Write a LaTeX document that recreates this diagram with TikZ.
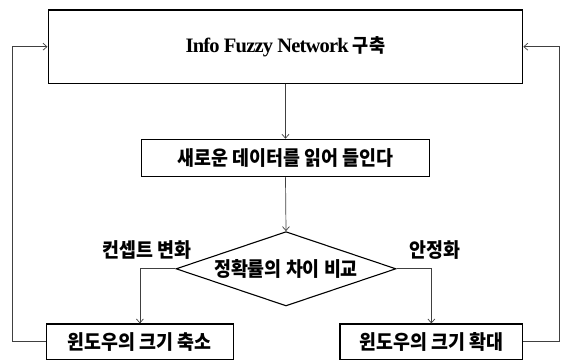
\documentclass[tikz,border=0pt]{standalone}
\usepackage{fontspec}
\setmainfont{Liberation Serif}
\newfontfamily\kr[FakeStretch=0.92]{Noto Sans CJK KR}
\newfontfamily\tightserif[LetterSpace=-4]{Liberation Serif}
\usetikzlibrary{shapes.geometric,arrows.meta}
\begin{document}
\begin{tikzpicture}[x=1pt,y=-1pt,
  kfont/.style={font=\kr\bfseries\fontsize{20}{24}\selectfont},
  box/.style={draw=black,line width=1.1pt,rectangle,inner sep=0pt,kfont},
  conn/.style={draw=black!75,line width=0.7pt},
  arr/.style={conn,-{Straight Barb[length=4pt,width=7pt]}},
  lbl/.style={kfont,inner sep=0pt}]
\useasboundingbox (0,0) rectangle (565,361);
\node[box,minimum width=474.7pt,minimum height=73.3pt] (top) at (285.4,46.7)
  {{\tightserif\bfseries\fontsize{20.5}{24}\selectfont Info Fuzzy Network} {\kr\bfseries\fontsize{19}{24}\selectfont 구축}};
\node[box,minimum width=287.6pt,minimum height=37.4pt] (read) at (285.5,158) {새로운 데이터를 읽어 들인다};
\node[draw=black,line width=1.1pt,diamond,shape aspect=2.96,inner sep=0pt,minimum width=220pt,minimum height=74.3pt,kfont] (dia) at (286,268.8) {정확률의 차이 비교};
\node[box,minimum width=186.3pt,minimum height=35.5pt] (lbox) at (139.9,341.75) {윈도우의 크기 축소};
\node[box,minimum width=182.7pt,minimum height=35.5pt] (rbox) at (431.35,341.75) {윈도우의 크기 확대};
\node[lbl] (lc) at (146.7,250) {컨셉트 변화};
\node[lbl] (lr) at (435,250) {안정화};
\coordinate (lf) at (12.3,0);
\coordinate (rf) at (559.5,0);
\draw[arr] (top.south) -- (read.north);
\draw[arr] (read.south) -- (dia.north);
\draw[arr] (dia.west) -| (lbox.north);
\draw[arr] (dia.east) -| (rbox.north);
\draw[arr] (lbox.west) -- (lbox.west -| lf) |- (top.west);
\draw[arr] (rbox.east) -- (rbox.east -| rf) |- (top.east);
\end{tikzpicture}
\end{document}
